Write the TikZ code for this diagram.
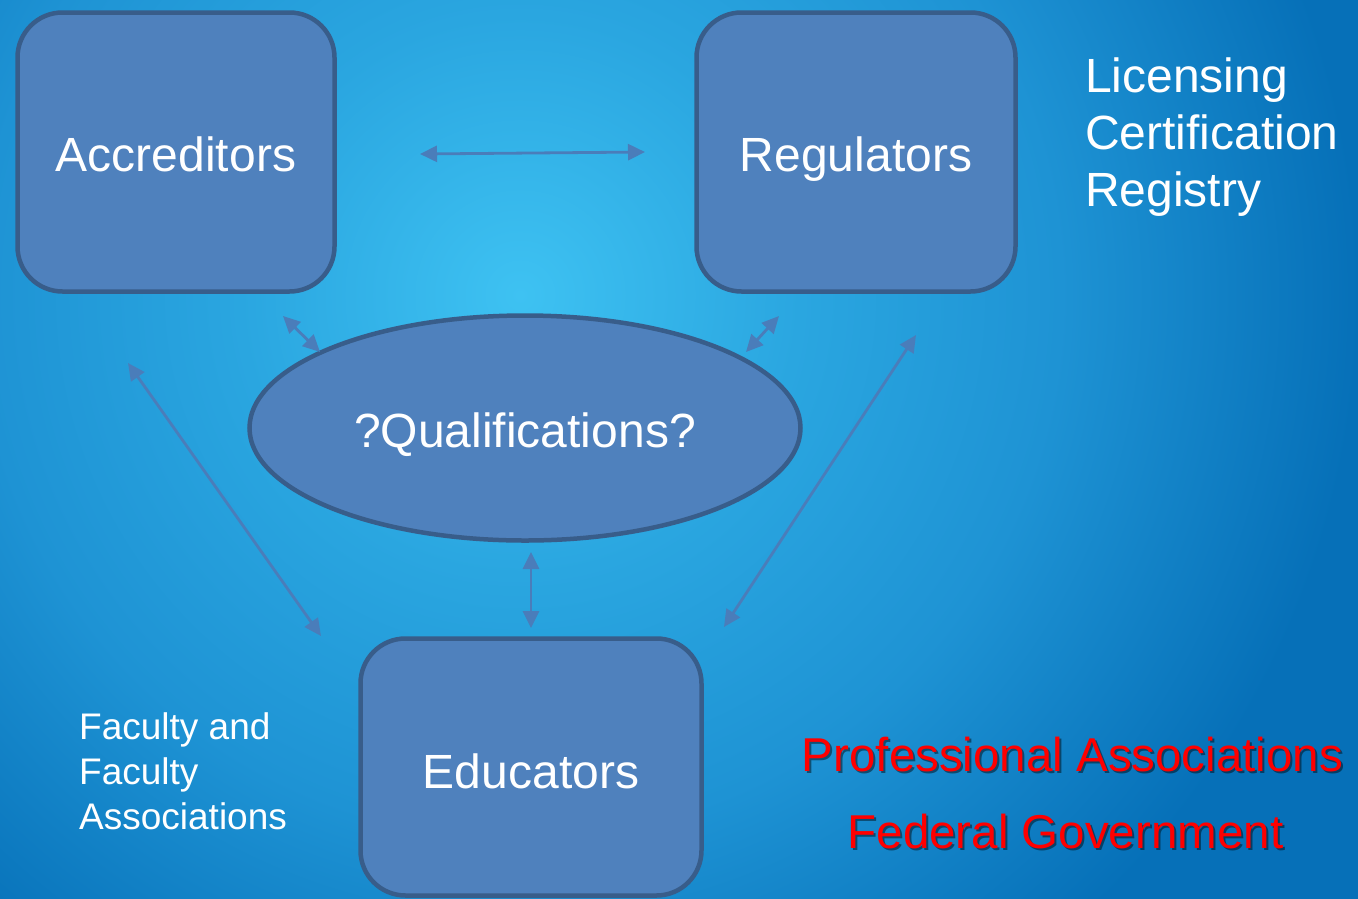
\documentclass[tikz,border=0pt]{standalone}
\usepackage{fontspec}
\setmainfont{Liberation Sans}
\usetikzlibrary{arrows.meta,shapes.geometric}
\definecolor{bgin}{HTML}{3EC2F2}
\definecolor{bgmid}{HTML}{2AA6E0}
\definecolor{bgmid2}{HTML}{1E93D4}
\definecolor{bgout}{HTML}{0670B8}
\definecolor{boxfill}{HTML}{4F81BD}
\definecolor{boxline}{HTML}{385D8A}
\definecolor{arrc}{HTML}{4A7DBA}
\pgfdeclareradialshading{bgshade}{\pgfpoint{0bp}{0bp}}{color(0bp)=(bgin); color(7bp)=(bgmid); color(13.5bp)=(bgmid2); color(21bp)=(bgout); color(50bp)=(bgout)}
\begin{document}
\begin{tikzpicture}[x=1pt,y=-1pt,
  box/.style={draw=boxline, fill=boxfill, line width=4.5pt, rounded corners=45pt,
    text=white, font=\fontsize{48}{57}\selectfont, inner sep=0pt,
    text height=38pt, text depth=0pt},
  oval/.style={ellipse, draw=boxline, fill=boxfill, line width=4.5pt,
    text=white, font=\fontsize{48}{57}\selectfont, inner sep=0pt,
    text height=38pt, text depth=0pt},
  arr/.style={draw=arrc, line width=2.8pt, {Triangle[length=17pt,width=16pt]}-{Triangle[length=17pt,width=16pt]}},
  whitetxt/.style={text=white, inner sep=0pt, align=left},
  redtxt/.style={text=red, inner sep=0pt, font=\fontsize{47.5}{57}\selectfont},
  shadowtxt/.style={text=black, opacity=0.45, inner sep=0pt, font=\fontsize{47.5}{57}\selectfont}
]
\useasboundingbox (0,0) rectangle (1358,898);
\fill[bgout] (-10,-10) rectangle (1368,908);
\begin{scope}
  \clip (-4,-4) rectangle (1362,902);
  \shade[shading=bgshade] (520,295) circle (1000);
\end{scope}

\node[box, minimum width=317pt, minimum height=279pt] (acc) at (176,152) {Accreditors};
\node[box, minimum width=319pt, minimum height=279pt] (reg) at (856,152) {Regulators};
\node[box, minimum width=341pt, minimum height=257pt, text height=42pt] (edu) at (531,767) {Educators};
\node[oval, minimum width=551pt, minimum height=225pt] (qual) at (525,428) {?Qualifications?};

% arrow end points
\coordinate (h1) at (420,154);
\coordinate (h2) at (645,152);
\coordinate (ae1) at (283,316);
\coordinate (ae2) at (320,352);
\coordinate (re1) at (779,316);
\coordinate (re2) at (746,352);
\coordinate (l1) at (128,363);
\coordinate (l2) at (321,636);
\coordinate (r1) at (916,335);
\coordinate (r2) at (724,627);
\coordinate (v1) at (531,552);
\coordinate (v2) at (531,628);

\draw[arr] (h1) -- (h2);
\draw[arr] (ae1) -- (ae2);
\draw[arr] (re1) -- (re2);
\draw[arr] (l1) -- (l2);
\draw[arr] (r1) -- (r2);
\draw[arr] (v1) -- (v2);

\node[whitetxt, anchor=north west, font=\fontsize{48}{57}\selectfont] (lic) at (1085,58)
  {Licensing\\Certification\\Registry};
\node[whitetxt, anchor=north west, font=\fontsize{37}{45}\selectfont] (fac) at (79,712)
  {Faculty and\\Faculty\\Associations};

\node[shadowtxt, anchor=base] at (1074.5,773) {Professional Associations};
\node[redtxt, anchor=base] (prof) at (1072.5,771) {Professional Associations};
\node[shadowtxt, anchor=base] at (1067.5,850) {Federal Government};
\node[redtxt, anchor=base] (fed) at (1065.5,848) {Federal Government};
\end{tikzpicture}
\end{document}
